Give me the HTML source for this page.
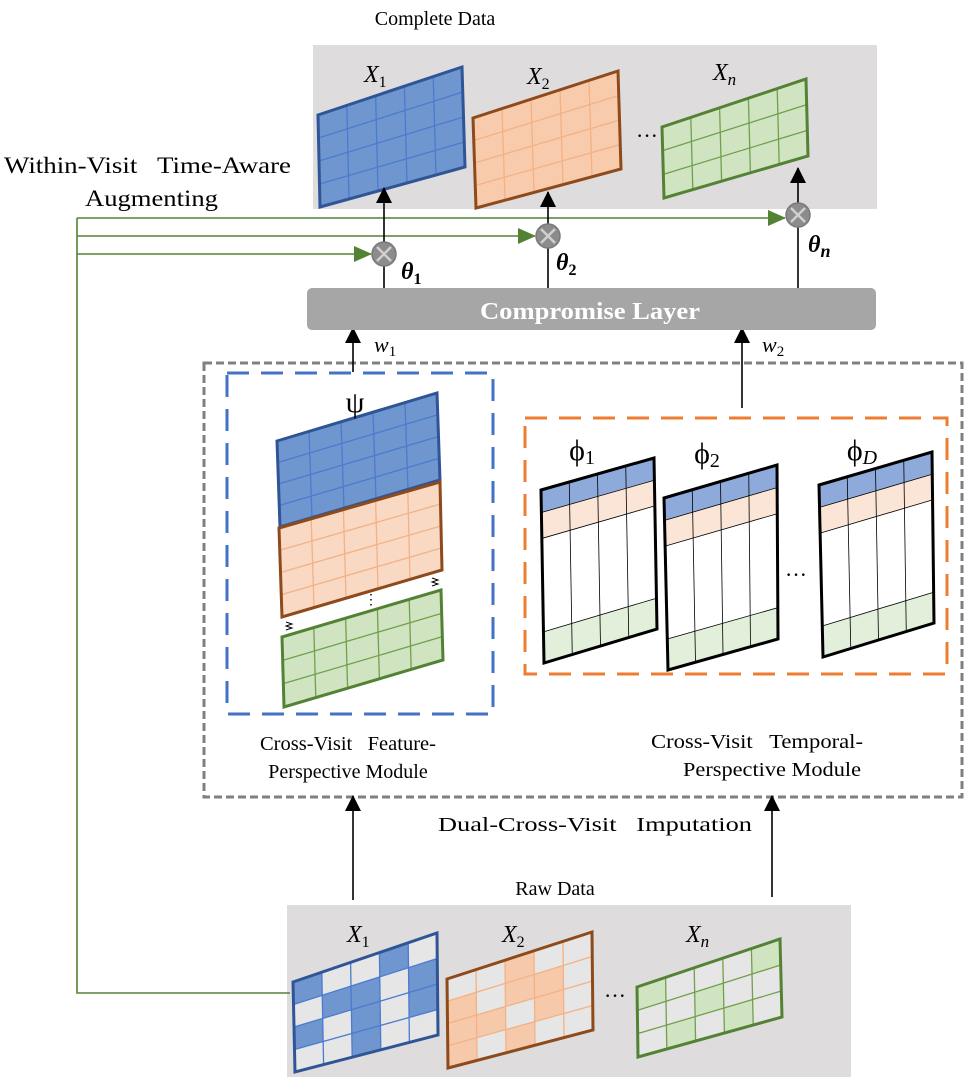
<!DOCTYPE html>
<html><head><meta charset="utf-8"><style>
html,body{margin:0;padding:0;background:#fff}
svg{display:block}
text{font-family:"Liberation Serif",serif;fill:#000}
</style></head><body>
<svg id="s" width="972" height="1080" viewBox="0 0 972 1080" xmlns="http://www.w3.org/2000/svg">
<defs>
<marker id="ag" markerWidth="18" markerHeight="16" refX="17" refY="8" orient="auto" markerUnits="userSpaceOnUse"><path d="M0,0 L18,8 L0,16 z" fill="#548235"/></marker>
<marker id="ab" markerWidth="16" markerHeight="16" refX="15" refY="8" orient="auto" markerUnits="userSpaceOnUse"><path d="M0,0 L16,8 L0,16 z" fill="#000"/></marker>
</defs>
<rect x="313" y="45" width="564" height="164" fill="#dedcdd"/>
<rect x="287" y="905" width="564" height="172" fill="#dedcdd"/>
<rect x="204" y="363" width="758" height="434" fill="none" stroke="#808080" stroke-width="3" stroke-dasharray="8,4"/>
<rect x="227" y="373" width="266" height="341" fill="none" stroke="#4472c4" stroke-width="3" stroke-dasharray="22,12"/>
<rect x="525" y="418" width="422" height="256" fill="none" stroke="#ed7d31" stroke-width="3" stroke-dasharray="22,12"/>
<g id="grids"></g>
<text x="435" y="25" font-size="20" text-anchor="middle">Complete Data</text>
<text x="555" y="895" font-size="20" text-anchor="middle">Raw Data</text>
<text x="4" y="173" font-size="23" textLength="287" lengthAdjust="spacingAndGlyphs">Within-Visit&#160;&#160; Time-Aware</text>
<text x="85" y="206" font-size="23" textLength="133" lengthAdjust="spacingAndGlyphs">Augmenting</text>
<g stroke="#548235" stroke-width="1.6" fill="none">
<polyline points="290,993 77,993 77,218"/>
<line x1="77" y1="218" x2="785" y2="218" marker-end="url(#ag)"/>
<line x1="77" y1="236" x2="535" y2="236" marker-end="url(#ag)"/>
<line x1="77" y1="254" x2="371" y2="254" marker-end="url(#ag)"/>
</g>
<g stroke="#000" stroke-width="1.6">
<line x1="384" y1="290" x2="384" y2="188" marker-end="url(#ab)"/>
<line x1="548" y1="290" x2="548" y2="192" marker-end="url(#ab)"/>
<line x1="798" y1="290" x2="798" y2="168" marker-end="url(#ab)"/>
<line x1="353" y1="372" x2="353" y2="328" marker-end="url(#ab)"/>
<line x1="742" y1="408" x2="742" y2="328" marker-end="url(#ab)"/>
<line x1="353" y1="900" x2="353" y2="796" marker-end="url(#ab)"/>
<line x1="772" y1="897" x2="772" y2="796" marker-end="url(#ab)"/>
</g>
<g id="circ"></g>
<text x="401" y="279" font-size="24" font-weight="bold" font-style="italic">θ<tspan font-size="16" dy="5" font-style="normal">1</tspan></text>
<text x="556" y="270" font-size="24" font-weight="bold" font-style="italic">θ<tspan font-size="16" dy="5" font-style="normal">2</tspan></text>
<text x="808" y="252" font-size="24" font-weight="bold" font-style="italic">θ<tspan font-size="18" dy="5">n</tspan></text>
<rect x="307" y="288" width="569" height="42" rx="5" fill="#a6a6a6"/>
<text x="480" y="319" font-size="24" font-weight="bold" textLength="220" lengthAdjust="spacingAndGlyphs" style="fill:#fff">Compromise Layer</text>
<text x="374" y="352" font-size="22" font-style="italic">w<tspan font-size="15" dy="4" font-style="normal">1</tspan></text>
<text x="762" y="352" font-size="22" font-style="italic">w<tspan font-size="15" dy="4" font-style="normal">2</tspan></text>
<text x="355" y="412" font-size="30" text-anchor="middle">ψ</text>
<text x="582" y="460" font-size="30" text-anchor="middle">ϕ<tspan font-size="20" dy="4">1</tspan></text>
<text x="707" y="463" font-size="30" text-anchor="middle">ϕ<tspan font-size="20" dy="4">2</tspan></text>
<text x="862" y="460" font-size="30" text-anchor="middle">ϕ<tspan font-size="20" dy="4" font-style="italic">D</tspan></text>
<text x="260" y="750" font-size="20" textLength="176" lengthAdjust="spacingAndGlyphs">Cross-Visit&#160;&#160; Feature-</text>
<text x="348" y="778" font-size="20" text-anchor="middle">Perspective Module</text>
<text x="651" y="748" font-size="20" textLength="212" lengthAdjust="spacingAndGlyphs">Cross-Visit&#160;&#160; Temporal-</text>
<text x="683" y="776" font-size="20" textLength="178" lengthAdjust="spacingAndGlyphs">Perspective Module</text>
<text x="438" y="831" font-size="20" textLength="314" lengthAdjust="spacingAndGlyphs">Dual-Cross-Visit&#160;&#160; Imputation</text>
<g font-size="24" font-style="italic">
<text x="364" y="82">X<tspan font-size="16" dy="5" font-style="normal">1</tspan></text>
<text x="527" y="84">X<tspan font-size="16" dy="5" font-style="normal">2</tspan></text>
<text x="713" y="80">X<tspan font-size="17" dy="5">n</tspan></text>
<text x="347" y="942">X<tspan font-size="16" dy="5" font-style="normal">1</tspan></text>
<text x="502" y="942">X<tspan font-size="16" dy="5" font-style="normal">2</tspan></text>
<text x="686" y="942">X<tspan font-size="17" dy="5">n</tspan></text>
</g>
<g font-size="22"><text x="636" y="143">···</text><text x="604" y="1003">···</text><text x="785" y="582">···</text></g>
<text x="364" y="604" font-size="14">⋮</text>
<path d="M286,622 l6,2 -6,2 6,2 -6,2" stroke="#000" fill="none" stroke-width="1"/>
<path d="M432,578 l6,2 -6,2 6,2 -6,2" stroke="#000" fill="none" stroke-width="1"/>
</svg>
<script>
var NS="http://www.w3.org/2000/svg",G=document.getElementById("grids");
function el(t,a){var e=document.createElementNS(NS,t);for(var k in a)e.setAttribute(k,a[k]);G.appendChild(e);return e;}
function P(c,u,v){var tx=c[0][0]+(c[1][0]-c[0][0])*u,ty=c[0][1]+(c[1][1]-c[0][1])*u,bx=c[3][0]+(c[2][0]-c[3][0])*u,by=c[3][1]+(c[2][1]-c[3][1])*u;return [tx+(bx-tx)*v,ty+(by-ty)*v];}
function lin(n){var a=[];for(var i=0;i<=n;i++)a.push(i/n);return a;}
function grid(c,us,vs,fillFn,line,stroke,sw,lw){
 for(var i=0;i<us.length-1;i++)for(var j=0;j<vs.length-1;j++){
  var p=[P(c,us[i],vs[j]),P(c,us[i+1],vs[j]),P(c,us[i+1],vs[j+1]),P(c,us[i],vs[j+1])];
  el("polygon",{points:p.map(function(q){return q.join(",")}).join(" "),fill:fillFn(i,j),stroke:fillFn(i,j),"stroke-width":0.5});}
 for(var i=1;i<us.length-1;i++){var a=P(c,us[i],0),b=P(c,us[i],1);el("line",{x1:a[0],y1:a[1],x2:b[0],y2:b[1],stroke:line,"stroke-width":lw||1.3});}
 for(var j=1;j<vs.length-1;j++){var a=P(c,0,vs[j]),b=P(c,1,vs[j]);el("line",{x1:a[0],y1:a[1],x2:b[0],y2:b[1],stroke:line,"stroke-width":lw||1.3});}
 el("polygon",{points:c.map(function(q){return q.join(",")}).join(" "),fill:"none",stroke:stroke,"stroke-width":sw||3});
}
var B=["#7096d0","#4a7bd0","#2f5597"],O=["#f8cbad","#f4b183","#8e4a1a"],Gr=["#d0e4c2","#70a04c","#548235"];
function K(col){return function(){return col;}}
grid([[318,115],[462,67],[465,167],[320,207]],lin(5),lin(4),K(B[0]),B[1],B[2]);
grid([[473,118],[618,71],[621,169],[476,208]],lin(5),lin(4),K(O[0]),O[1],O[2]);
grid([[662,127],[806,79],[808,156],[664,198]],lin(5),lin(3),K(Gr[0]),Gr[1],Gr[2]);
grid([[277,441],[437,393],[440,480],[280,527]],lin(5),lin(4),K(B[0]),B[1],B[2]);
grid([[279,528],[440,482],[442,570],[282,617]],lin(5),lin(4),K("#f9d9c4"),O[1],O[2]);
grid([[282,637],[441,590],[443,660],[284,707]],lin(5),lin(3),K(Gr[0]),Gr[1],Gr[2]);
var W="#e6e6e6";
function pat(m,col){return function(i,j){return m[j][i]?col:W;}}
grid([[293,982],[437,933],[438,1035],[295,1072]],lin(5),lin(4),pat([[1,0,0,1,0],[0,1,1,0,1],[1,0,1,0,1],[0,0,1,0,0]],B[0]),B[1],B[2]);
grid([[447,979],[592,932],[593,1030],[448,1068]],lin(5),lin(4),pat([[0,0,1,0,0],[1,0,1,1,0],[1,1,0,1,0],[1,0,1,0,0]],"#f6c9ab"),O[1],O[2]);
grid([[637,987],[780,939],[782,1017],[638,1057]],lin(5),lin(3),pat([[1,0,0,0,1],[0,0,1,0,0],[0,1,0,1,0]],Gr[0]),Gr[1],Gr[2]);
var vb=[0,0.13,0.28,0.82,1];
function band(i,j){return ["#8eaadb","#fbe5d6","#ffffff","#e2efda"][j];}
[[[541,490],[654,458],[657,629],[544,663]],[[664,498],[777,465],[778,639],[668,670]],[[819,485],[932,452],[934,623],[823,657]]].forEach(function(c){grid(c,lin(4),vb,band,"#000","#000",3,0.8);});
var C=document.getElementById("circ");
[[384,254],[548,236],[798,215]].forEach(function(p){
 var c=document.createElementNS(NS,"circle");c.setAttribute("cx",p[0]);c.setAttribute("cy",p[1]);c.setAttribute("r",12);c.setAttribute("fill","#8c8c8c");c.setAttribute("stroke","#7a7a7a");c.setAttribute("stroke-width",1.5);C.appendChild(c);
 var d=document.createElementNS(NS,"path");d.setAttribute("d","M"+(p[0]-7)+","+(p[1]-7)+" l14,14 M"+(p[0]+7)+","+(p[1]-7)+" l-14,14");d.setAttribute("stroke","#d0d0d0");d.setAttribute("stroke-width",2.5);C.appendChild(d);});
</script>
</body></html>
